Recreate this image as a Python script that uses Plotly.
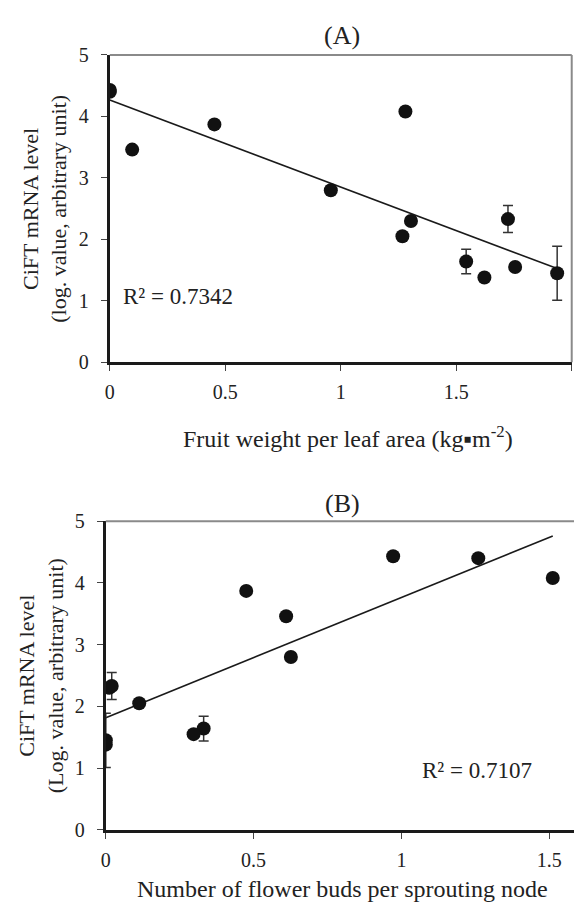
import numpy as np
import plotly.graph_objects as go

# Shared CiFT mRNA level (log value) for each sample
cift_level = [4.43, 4.40, 4.08, 3.87, 3.46, 2.80, 2.30, 2.33, 2.05, 1.64, 1.55, 1.45, 1.38]
cift_err = [0.03, 0.03, 0.06, 0.03, 0.03, 0.06, 0.06, 0.22, 0.03, 0.20, 0.03, 0.44, 0.03]
# (A) Fruit weight per leaf area (kg m-2)
fruit_weight = [0.0, 0.0, 1.28, 0.453, 0.097, 0.957, 1.304, 1.724, 1.267, 1.543, 1.755, 1.937, 1.622]
# (B) Number of flower buds per sprouting node
flower_buds = [0.972, 1.26, 1.512, 0.475, 0.61, 0.626, 0.012, 0.02, 0.113, 0.331, 0.297, 0.0, 0.0]

r2_a = "R² = 0.7342"
r2_b = "R² = 0.7107"
ticks_a_x = [0, 0.5, 1, 1.5, 2]
ticks_a_xlab = ["0", "0.5", "1", "1.5", "2"]
ticks_b_x = [0, 0.5, 1, 1.5]
ticks_b_xlab = ["0", "0.5", "1", "1.5"]
ticks_y = [0, 1, 2, 3, 4, 5]

FONT = "Liberation Serif"
W, H = 574, 915

fig = go.Figure()

def add_panel(x, xa, ya):
    x = np.array(x)
    y = np.array(cift_level)
    k, b = np.polyfit(x, y, 1)
    xs = np.array([x.min(), x.max()])
    fig.add_trace(go.Scatter(x=xs, y=k * xs + b, mode="lines",
                             line=dict(color="#1a1a1a", width=1.6),
                             xaxis=xa, yaxis=ya, showlegend=False, hoverinfo="skip"))
    fig.add_trace(go.Scatter(x=x, y=y, mode="markers",
                             marker=dict(color="#111111", size=14),
                             error_y=dict(type="data", array=cift_err, visible=True,
                                          color="#333333", thickness=1.5, width=5),
                             xaxis=xa, yaxis=ya, showlegend=False))

add_panel(fruit_weight, "x", "y")
add_panel(flower_buds, "x2", "y2")

def px_x(p):
    return p / W

def px_y(p):
    return 1 - p / H

axis_common = dict(
    showgrid=False, zeroline=False, showline=True, linecolor="#1a1a1a", linewidth=3,
    ticks="outside", ticklen=6, tickwidth=1, tickcolor="#444444",
    tickfont=dict(family=FONT, size=20, color="#222222"),
)

fig.update_layout(
    width=W, height=H, margin=dict(l=0, r=0, t=0, b=0),
    paper_bgcolor="white", plot_bgcolor="white",
    font=dict(family=FONT, color="#222222"),
    xaxis=dict(domain=[px_x(105.7), px_x(571.7)], range=[0, 2], tickvals=ticks_a_x,
               ticktext=ticks_a_xlab, anchor="y", ticklabelstandoff=4, **axis_common),
    yaxis=dict(domain=[px_y(360), px_y(45)], range=[0, 5], tickvals=ticks_y,
               anchor="x", ticklabelstandoff=8, **axis_common),
    xaxis2=dict(domain=[px_x(101.7), 1.0], range=[0, (574 - 101.7) / 298.2], tickvals=ticks_b_x,
                ticktext=ticks_b_xlab, anchor="y2", ticklabelstandoff=4, **axis_common),
    yaxis2=dict(domain=[px_y(839), px_y(522.7)], range=[0, 5], tickvals=ticks_y,
                anchor="x2", ticklabelstandoff=8, **axis_common),
)

# Gray top/right frame lines
for xr, yr, right in [("x domain", "y domain", True), ("x2 domain", "y2 domain", False)]:
    fig.add_shape(type="line", xref=xr, yref=yr, x0=0, x1=1, y0=1, y1=1,
                  line=dict(color="#8a8a8a", width=2))
    if right:
        fig.add_shape(type="line", xref=xr, yref=yr, x0=1, x1=1, y0=0, y1=1,
                      line=dict(color="#8a8a8a", width=2))

ann = []
def text(x, y, s, size=20, angle=0):
    ann.append(dict(x=px_x(x), y=px_y(y), xref="paper", yref="paper", text=s,
                    showarrow=False, textangle=angle, xanchor="center", yanchor="middle",
                    font=dict(family=FONT, size=size, color="#222222")))

text(340, 25, "(A)", 26)
text(340, 505, "(B)", 26)
text(346, 437, "Fruit weight per leaf area (kg▪m<sup>-2</sup>)", 24)
text(340, 900, "Number of flower buds per sprouting node", 24)
text(40, 203, "CiFT mRNA level<br>(log. value, arbitrary unit)", 22, -90)
text(36, 681, "CiFT mRNA level<br>(Log. value, arbitrary unit)", 22, -90)
text(175, 293, r2_a, 23)
text(476, 778, r2_b, 23)
fig.update_layout(annotations=ann)

fig.write_html("out.html")
